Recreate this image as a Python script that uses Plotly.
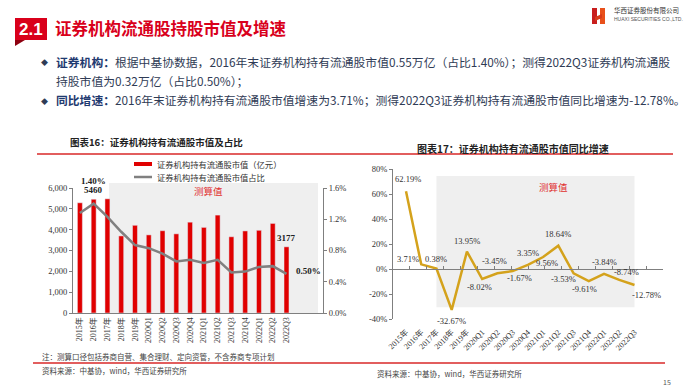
import plotly.graph_objects as go

# ---------------- data ----------------
cats = ["2015年", "2016年", "2017年", "2018年", "2019年", "2020Q1", "2020Q2", "2020Q3",
        "2020Q4", "2021Q1", "2021Q2", "2021Q3", "2021Q4", "2022Q1", "2022Q2", "2022Q3"]
market_value = [5290, 5460, 5480, 3700, 4210, 3750, 3950, 3800,
                4360, 4110, 4700, 3660, 3940, 3970, 4300, 3177]          # 亿元
ratio_pct = [1.28, 1.40, 1.23, 1.04, 0.87, 0.83, 0.76, 0.66,
             0.68, 0.64, 0.68, 0.52, 0.53, 0.59, 0.60, 0.50]              # %
yoy_pct = [62.19, 3.71, 0.38, -32.67, 13.95, -8.02, -3.45, -1.67,
           3.35, 9.56, 18.64, -3.53, -9.61, -3.84, -8.74, -12.78]         # %
mv_ticks = [0, 1000, 2000, 3000, 4000, 5000, 6000]
ratio_ticks = [0.0, 0.004, 0.008, 0.012, 0.016]
yoy_ticks = [-40, -20, 0, 20, 40, 60, 80]
series_names = ["证券机构持有流通股市值（亿元）", "证券机构持有流通股市值占比"]
# label offsets (px) for the yoy data labels
yoy_label_shift = [(2, 12), (-13, 5), (0, 10), (0, -11), (0, 11), (-3, -8), (-3, 12), (7, -7),
                   (0, 12), (4, -6), (0, 12), (-10, -6), (-4, -8), (0, 12), (7, 8), (12, -10)]

W, H = 700, 392
def px(x): return x / W
def py(y): return 1 - y / H

SERIF = "Liberation Serif, Noto Sans CJK SC"
SANS = "Noto Sans CJK SC"
RED = "#E00000"
GRAY_LINE = "#808080"
GOLD = "#D4A21C"
AX = "#7F7F7F"

fig = go.Figure()

ratio = [r / 100 for r in ratio_pct]
fig.add_trace(go.Bar(x=cats, y=market_value, name=series_names[0], showlegend=False,
                     marker_color=RED, xaxis="x", yaxis="y"))
fig.add_trace(go.Scatter(x=cats, y=ratio, name=series_names[1], mode="lines", showlegend=False,
                         line=dict(color=GRAY_LINE, width=2.5), xaxis="x", yaxis="y2"))
fig.add_trace(go.Scatter(x=cats, y=yoy_pct, mode="lines", showlegend=False,
                         line=dict(color=GOLD, width=2.5), xaxis="x3", yaxis="y3"))
fig.add_trace(go.Scatter(x=[None], y=[None], showlegend=False, hoverinfo="skip",
                         xaxis="x4", yaxis="y3"))

tickfont = dict(family=SERIF, size=8.5, color="#333333")
left_dom_x = [px(73), px(323)]
left_dom_y = [py(313), py(188)]
right_dom_x = [px(393), px(663)]
right_dom_y = [py(319), py(169)]

fig.update_layout(
    width=W, height=H, margin=dict(l=0, r=0, t=0, b=0, autoexpand=False),
    paper_bgcolor="white", plot_bgcolor="rgba(0,0,0,0)",
    bargap=0.64, showlegend=False,
    xaxis=dict(domain=left_dom_x, anchor="y", type="category", showline=True,
               linecolor=AX, linewidth=1, ticks="", tickangle=-90,
               tickfont=dict(family=SERIF, size=8, color="#333333"), showgrid=False),
    yaxis=dict(domain=left_dom_y, anchor="x", range=[0, 6000], tickvals=mv_ticks, tickformat=",",
               showline=True, linecolor=AX, ticks="outside", ticklen=3, tickcolor=AX,
               showgrid=False, zeroline=False, tickfont=tickfont),
    yaxis2=dict(overlaying="y", side="right", anchor="x", range=[0, 0.016], tickvals=ratio_ticks,
                tickformat=".1%", showline=True, linecolor=AX, ticks="outside", ticklen=3,
                tickcolor=AX, showgrid=False, zeroline=False, tickfont=tickfont),
    xaxis3=dict(domain=right_dom_x, anchor="y3", type="category", showline=False, ticks="",
                tickangle=-45, ticklabelstandoff=6,
                tickfont=dict(family=SERIF, size=8, color="#333333"), showgrid=False),
    yaxis3=dict(domain=right_dom_y, anchor="x3", range=[-40, 80], tickvals=yoy_ticks,
                ticktext=[f"{v}%" for v in yoy_ticks],
                showline=True, linecolor=AX, ticks="outside", ticklen=3, tickcolor=AX,
                showgrid=False, zeroline=False, tickfont=tickfont),
    xaxis4=dict(overlaying="x3", anchor="free",
                position=right_dom_y[0] + (0 - (-40)) / 120 * (right_dom_y[1] - right_dom_y[0]),
                range=[-0.5, 15.5], tickvals=[i + 0.5 for i in range(len(cats) - 1)],
                showticklabels=False, ticks="inside", ticklen=3, tickcolor=AX,
                showline=True, linecolor=AX, showgrid=False, zeroline=False),
)

shapes = []
# grey "estimated" backgrounds
shapes.append(dict(type="rect", xref="x domain", yref="paper", x0=0.144, x1=0.98,
                   y0=py(313), y1=py(183), fillcolor="#EFEFEF", line_width=0, layer="below"))
shapes.append(dict(type="rect", xref="x3", yref="y3", x0=2, x1=15, y0=-30.5, y1=74.5,
                   fillcolor="#EFEFEF", line_width=0, layer="below"))
# red separator lines
shapes.append(dict(type="line", xref="paper", yref="paper", x0=px(37), x1=px(673), y0=py(154), y1=py(154),
                   line=dict(color="#D82828", width=1.5)))
shapes.append(dict(type="line", xref="paper", yref="paper", x0=px(33), x1=px(665), y0=py(363), y1=py(363),
                   line=dict(color="#D82828", width=1.5)))
# header red badge
shapes.append(dict(type="path", xref="paper", yref="paper",
                   path=f"M {px(15)} {py(18)} L {px(47)} {py(18)} L {px(47)} {py(40)} L {px(15)} {py(40)} Z",
                   fillcolor="#D9001B", line_width=0))
shapes.append(dict(type="path", xref="paper", yref="paper",
                   path=f"M {px(15)} {py(40)} L {px(25)} {py(40)} L {px(15)} {py(46)} Z",
                   fillcolor="#8E0010", line_width=0))
# logo mark
shapes.append(dict(type="rect", xref="paper", yref="paper", x0=px(592), x1=px(597), y0=py(24), y1=py(8),
                   fillcolor="#C81E1E", line_width=0))
shapes.append(dict(type="rect", xref="paper", yref="paper", x0=px(600), x1=px(605), y0=py(24), y1=py(8),
                   fillcolor="#E8501A", line_width=0))
shapes.append(dict(type="path", xref="paper", yref="paper",
                   path=f"M {px(595)} {py(17)} L {px(602)} {py(14)} L {px(602)} {py(18)} L {px(595)} {py(21)} Z",
                   fillcolor="#D83A1A", line_width=0))
# manual legend symbols (left chart)
shapes.append(dict(type="rect", xref="paper", yref="paper", x0=px(134), x1=px(152), y0=py(166), y1=py(162),
                   fillcolor=RED, line_width=0))
shapes.append(dict(type="line", xref="paper", yref="paper", x0=px(134), x1=px(152), y0=py(177), y1=py(177),
                   line=dict(color=GRAY_LINE, width=2.5)))
fig.update_layout(shapes=shapes)

ann = []
def txt(x, y, text, size=10, color="#333333", family=SANS, xanchor="center", yanchor="middle", **kw):
    ann.append(dict(x=px(x), y=py(y), xref="paper", yref="paper", text=text, showarrow=False,
                    font=dict(size=size, color=color, family=family), xanchor=xanchor, yanchor=yanchor, **kw))

# header
txt(31, 29, "<b>2.1</b>", size=17, color="white", family="Liberation Sans, Arial")
txt(53, 28, "<b>证券机构流通股持股市值及增速</b>", size=16.5, color="#D9001B", xanchor="left")
txt(612, 10, "华西证券股份有限公司", size=6.5, color="#333333", xanchor="left")
txt(612, 19, "HUAXI SECURITIES CO.,LTD.", size=5, color="#555555", family="Liberation Sans", xanchor="left")

# bullets
BOLDC = "#1F3A70"
BODYC = "#2F3B55"
BFS = 11.8
txt(44, 62, "◆", size=7, color=BODYC)
txt(44, 101, "◆", size=7, color=BODYC)
txt(54, 61, f"<b><span style='color:{BOLDC}'>证券机构：</span></b>根据中基协数据，2016年末证券机构持有流通股市值0.55万亿（占比1.40%）；测得2022Q3证券机构流通股",
    size=BFS, color=BODYC, xanchor="left")
txt(54, 81, "持股市值为0.32万亿（占比0.50%）；", size=BFS, color=BODYC, xanchor="left")
txt(54, 100, f"<b><span style='color:{BOLDC}'>同比增速：</span></b>2016年末证券机构持有流通股市值增速为3.71%；测得2022Q3证券机构持有流通股市值同比增速为-12.78%。",
    size=BFS, color=BODYC, xanchor="left")

# chart titles
txt(68, 142, "<b>图表16：证券机构持有流通股市值及占比</b>", size=9.5, color="#222222", xanchor="left")
txt(415, 148, "<b>图表17：证券机构持有流通股市值同比增速</b>", size=10, color="#222222", xanchor="left")

# manual legend texts
txt(155, 164, series_names[0], size=8.3, color="#333333", xanchor="left")
txt(155, 177, series_names[1], size=8.3, color="#333333", xanchor="left")

# 测算值 markers
txt(208, 191, "测算值", size=9.5, color="#E03030")
txt(553, 187, "测算值", size=9.5, color="#E03030")

# notes and sources
txt(40, 356, "注：测算口径包括券商自营、集合理财、定向资管，不含券商专项计划", size=7.5, color="#444444", xanchor="left")
txt(40, 370, "资料来源：中基协，wind，华西证券研究所", size=7.5, color="#444444", xanchor="left")
txt(375, 373, "资料来源：中基协，wind，华西证券研究所", size=7.5, color="#444444", xanchor="left")
txt(667, 382, "15", size=7, color="#555555")
fig.update_layout(annotations=ann)

# data labels on the left chart
i16 = cats.index("2016年")
fig.add_annotation(x=cats[i16], y=market_value[i16], xref="x", yref="y", text=f"<b>{market_value[i16]}</b>",
                   showarrow=False, yshift=9, font=dict(family=SERIF, size=9, color="#222222"))
fig.add_annotation(x=cats[i16], y=ratio[i16], xref="x", yref="y2", text=f"<b>{ratio_pct[i16]:.2f}%</b>",
                   showarrow=False, yshift=23, font=dict(family=SERIF, size=9, color="#222222"))
fig.add_annotation(x=cats[-1], y=market_value[-1], xref="x", yref="y", text=f"<b>{market_value[-1]}</b>",
                   showarrow=False, yshift=9, font=dict(family=SERIF, size=9, color="#222222"))
fig.add_annotation(x=cats[-1], y=ratio[-1], xref="x", yref="y2", text=f"<b>{ratio_pct[-1]:.2f}%</b>",
                   showarrow=False, xshift=22, yshift=3, font=dict(family=SERIF, size=9, color="#222222"))

# data labels on the right chart
for c, v, (dx, dy) in zip(cats, yoy_pct, yoy_label_shift):
    fig.add_annotation(x=c, y=v, xref="x3", yref="y3", text=f"{v:.2f}%", showarrow=False,
                       xshift=dx, yshift=dy, font=dict(family=SERIF, size=8.5, color="#333333"))

fig.write_html("out.html", config={"displayModeBar": False},
               post_script="document.body.style.margin='0';document.body.style.overflow='hidden';")
